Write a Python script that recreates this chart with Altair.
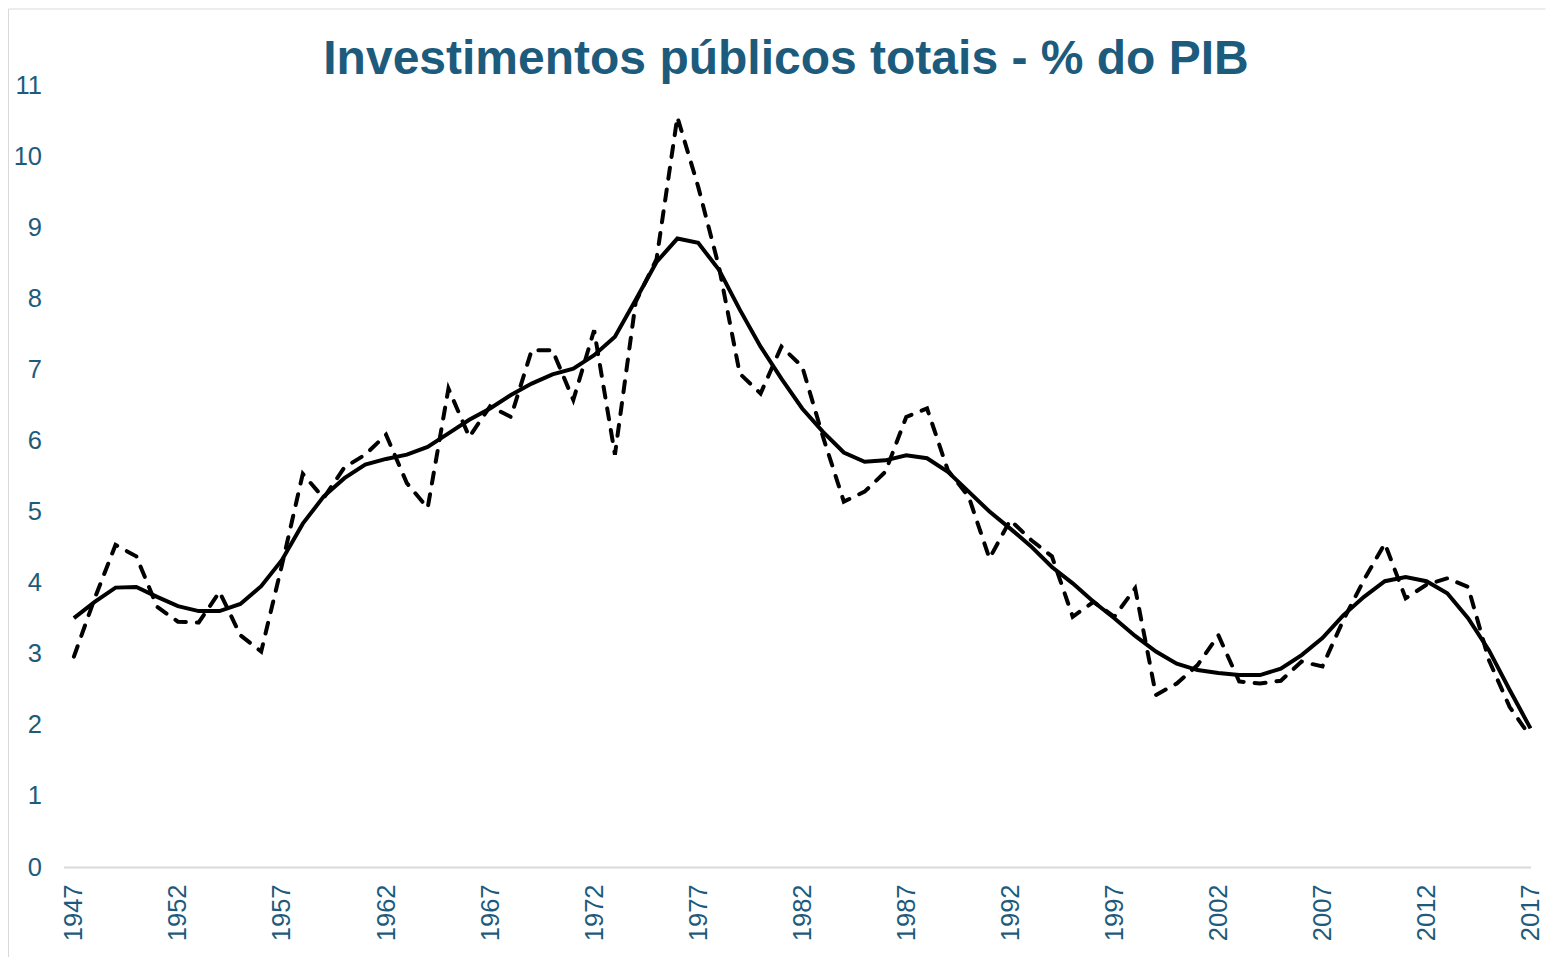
import altair as alt
import pandas as pd

# ---- data ----
years = list(range(1947, 2018))

annual = [
    2.96, 3.78, 4.53, 4.37, 3.66, 3.45, 3.44, 3.87, 3.26, 3.03,   # 1947-1956
    4.25, 5.53, 5.19, 5.62, 5.80, 6.08, 5.40, 5.05, 6.73, 6.05,   # 1957-1966
    6.48, 6.33, 7.27, 7.27, 6.57, 7.55, 5.80, 7.95, 8.55, 10.55,  # 1967-1976
    9.57, 8.44, 6.94, 6.66, 7.32, 7.04, 6.05, 5.14, 5.28, 5.56,   # 1977-1986
    6.33, 6.45, 5.58, 5.21, 4.34, 4.88, 4.60, 4.37, 3.52, 3.73,   # 1987-1996
    3.52, 3.92, 2.42, 2.58, 2.84, 3.26, 2.61, 2.58, 2.62, 2.89,   # 1997-2006
    2.82, 3.47, 4.04, 4.55, 3.78, 3.97, 4.06, 3.94, 2.91, 2.25,   # 2007-2016
    1.83,                                                         # 2017
]

trend = [
    3.50, 3.73, 3.93, 3.94, 3.80, 3.67, 3.60, 3.60, 3.70, 3.95,   # 1947-1956
    4.32, 4.83, 5.21, 5.47, 5.66, 5.74, 5.80, 5.91, 6.10, 6.29,   # 1957-1966
    6.45, 6.64, 6.80, 6.93, 7.01, 7.20, 7.46, 7.98, 8.51, 8.84,   # 1967-1976
    8.78, 8.40, 7.84, 7.32, 6.87, 6.45, 6.12, 5.83, 5.70, 5.72,   # 1977-1986
    5.79, 5.75, 5.56, 5.28, 5.00, 4.76, 4.51, 4.22, 3.99, 3.73,   # 1987-1996
    3.50, 3.25, 3.03, 2.86, 2.77, 2.73, 2.70, 2.70, 2.79, 2.98,   # 1997-2006
    3.22, 3.54, 3.80, 4.02, 4.08, 4.02, 3.85, 3.50, 3.05, 2.49,   # 2007-2016
    1.95,                                                         # 2017
]

tick_years = [1947, 1952, 1957, 1962, 1967, 1972, 1977, 1982,
              1987, 1992, 1997, 2002, 2007, 2012, 2017]
y_ticks = [0, 1, 2, 3, 4, 5, 6, 7, 8, 9, 10, 11]

title_text = "Investimentos públicos totais - % do PIB"

df = pd.DataFrame({"ano": years, "anual": annual, "tendencia": trend})

TEAL = "#1D5B7C"
FONT = "Liberation Sans"
LABEL_SIZE = 25.5

x_enc = alt.X(
    "ano:Q",
    scale=alt.Scale(domain=[1946.5, 2017], nice=False, zero=False),
    axis=alt.Axis(
        values=tick_years, format="d", labelAngle=-90, ticks=False, grid=False,
        domainColor="#D9D9D9", domainWidth=2, labelColor=TEAL,
        labelFontSize=LABEL_SIZE, labelFont=FONT, labelPadding=17, title=None,
        labelFlush=False, labelOverlap=False,
    ),
)


def y_enc(field):
    return alt.Y(
        f"{field}:Q",
        scale=alt.Scale(domain=[0, 11], nice=False),
        axis=alt.Axis(
            values=y_ticks, ticks=False, domain=False, grid=False,
            labelColor=TEAL, labelFontSize=LABEL_SIZE, labelFont=FONT,
            labelPadding=22, title=None, labelFlush=False,
        ),
    )


base = alt.Chart(df)

dashed = base.mark_line(
    color="black", strokeWidth=4, strokeDash=[11, 11], strokeCap="round"
).encode(x=x_enc, y=y_enc("anual"))

solid = base.mark_line(color="black", strokeWidth=4).encode(
    x=x_enc, y=y_enc("tendencia")
)

frame_df = pd.DataFrame({"k": [0]})
left_border = alt.Chart(frame_df).mark_rule(color="#D9D9D9", strokeWidth=1).encode(
    x=alt.value(-55), y=alt.value(-76), y2=alt.value(900)
)
top_border = alt.Chart(frame_df).mark_rule(color="#D9D9D9", strokeWidth=1).encode(
    x=alt.value(-55), x2=alt.value(1482), y=alt.value(-76)
)

chart = (
    alt.layer(left_border, top_border, dashed, solid)
    .properties(
        width=1467,
        height=782,
        background="white",
        title=alt.TitleParams(
            title_text, fontSize=48, font=FONT, fontWeight="bold", color=TEAL,
            anchor="middle", baseline="alphabetic", offset=-113, dx=-11,
        ),
        autosize=alt.AutoSizeParams(type="none"),
        padding={"left": 55.5, "top": 77, "right": 15.5, "bottom": 90},
    )
    .configure_view(strokeWidth=0, stroke="transparent")
)

chart.save("out.html", embed_options={"renderer": "svg", "actions": False})
